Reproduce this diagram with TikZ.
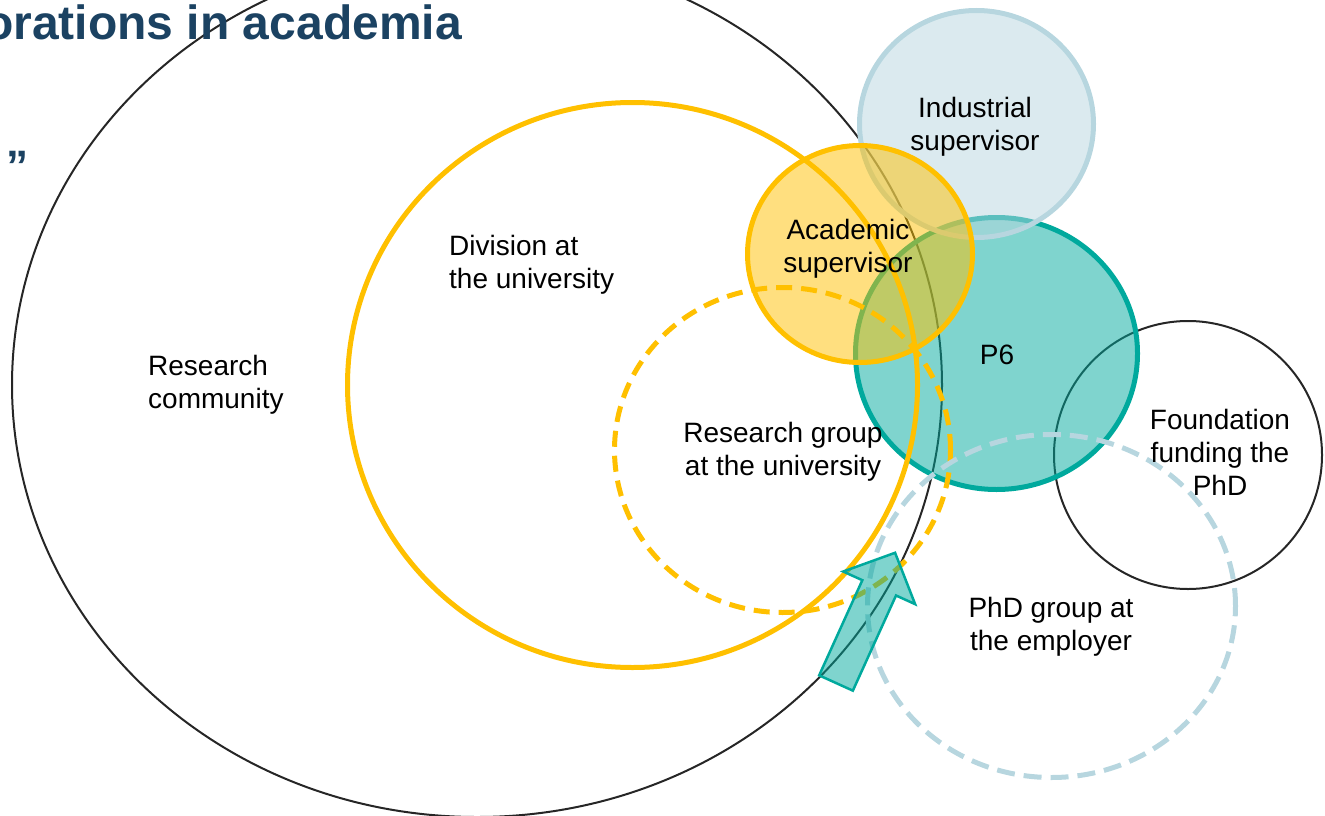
\documentclass[tikz,border=0pt]{standalone}
\usepackage{fontspec}
\setmainfont{Liberation Sans}
\usetikzlibrary{shapes.geometric}

\definecolor{gold}{HTML}{FFC000}
\definecolor{pteal}{HTML}{00A99D}
\definecolor{iceblue}{HTML}{B7D6DF}
\definecolor{slidenavy}{HTML}{1B4262}

\tikzset{
  ring/.style      = {shape=ellipse, inner sep=0pt, outer sep=0pt},
  thinring/.style  = {ring, draw=black!85, line width=2pt},
  goldring/.style  = {ring, draw=gold, line width=5pt},
  golddash/.style  = {goldring, dash pattern=on 16pt off 9pt},
  iceddash/.style  = {ring, draw=iceblue, line width=5pt, dash pattern=on 18pt off 9pt},
  icering/.style   = {ring, draw=iceblue, line width=5pt,
                      fill=iceblue, fill opacity=0.5},
  tealring/.style  = {ring, draw=pteal, line width=5pt,
                      fill=pteal, fill opacity=0.5},
  acadring/.style  = {goldring, fill=gold, fill opacity=0.5},
  txt/.style       = {inner sep=0pt, align=center,
                      font=\fontsize{28}{33}\selectfont}
}

\begin{document}
\begin{tikzpicture}[x=1pt, y=-1pt]
  \useasboundingbox (0,0) rectangle (1325,816);

  % circles, back to front
  \node [thinring, minimum width=930pt, minimum height=864pt] (comm) at (477,385) {};
  \node [thinring, minimum width=268pt, minimum height=268pt] (found) at (1188,455) {};
  \node [tealring, minimum width=282pt, minimum height=272pt] (p6) at (996.5,353.5) {};
  \node [goldring, minimum width=570pt, minimum height=565pt] (div) at (632.5,385) {};
  \node [golddash, minimum width=336pt, minimum height=325pt] (grp) at (782.5,450) {};
  \node [iceddash, minimum width=368pt, minimum height=343pt] (phd) at (1051.5,606) {};
  \node [icering, minimum width=234pt, minimum height=227pt] (ind) at (976.5,124) {};
  \node [acadring, minimum width=225pt, minimum height=217pt] (acad) at (860,254) {};

  % block arrow
  \begin{scope}[shift={(836,683)}, rotate=65.6]
    \draw [draw=pteal, line width=2.5pt, line join=miter, fill=pteal, fill opacity=0.5]
      (0,-18.5) -- (104.5,-18.5) -- (104.5,-39.5) -- (143,0)
      -- (104.5,39.5) -- (104.5,18.5) -- (0,18.5) -- cycle;
  \end{scope}

  % labels
  \node [txt, align=left, anchor=west] (tcomm) at (148,385) {Research\\community};
  \node [txt, align=left, anchor=west] (tdiv) at (449,265) {Division at\\the university};
  \node [txt] (tacad) at (848,249) {Academic\\supervisor};
  \node [txt] (tind) at (975,127) {Industrial\\supervisor};
  \node [txt] (tp6) at (997,355) {P6};
  \node [txt] (tgrp) at (783,452) {Research group\\at the university};
  \node [txt] (tfound) at (1220,452) {Foundation\\funding the\\PhD};
  \node [txt] (tphd) at (1051,627) {PhD group at\\the employer};

  % slide title, cut at the left edge
  \node [inner sep=0pt, anchor=base east, text=slidenavy,
         font=\fontsize{48}{56}\selectfont\bfseries] (title) at (462,40)
        {orations in academia};
  \node [inner sep=0pt, anchor=base west, text=slidenavy,
         font=\fontsize{44}{52}\selectfont\bfseries] (quote) at (6,181) {”};
\end{tikzpicture}
\end{document}
